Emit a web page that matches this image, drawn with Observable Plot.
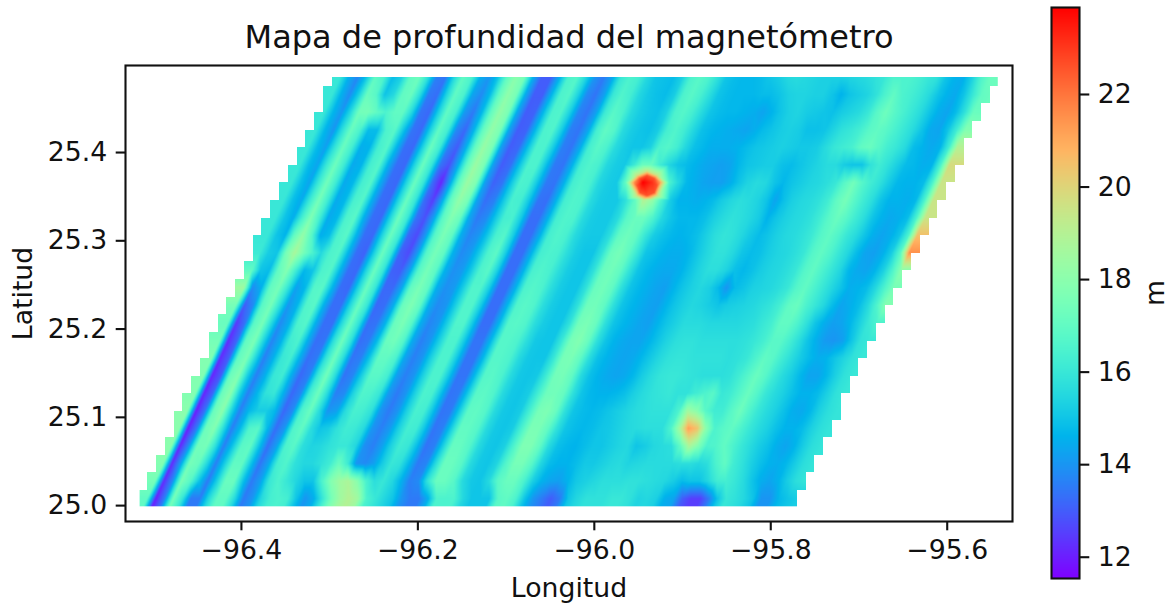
<!DOCTYPE html>
<html><head><meta charset="utf-8">
<script src="https://cdn.jsdelivr.net/npm/d3@7"></script>
<script src="https://cdn.jsdelivr.net/npm/@observablehq/plot@0.6"></script>
<style>html,body{margin:0;padding:0;background:#fff}#chart{display:flex;width:1172px;height:606px}svg{display:block}</style>
</head><body><div id="chart"></div>
<script>
// Depth in tenths of a metre, one row per 0.02 degrees of latitude, read along each row from its western edge.
const row24=[160,145,137,150,170,165,148,153,170,173,158,136,134,155,170,165,145,140,150,170,180,175,145,130,130,145,165,167,155,140,135,143,160,165,163,155,150,149,148,153,165,168,165,158,150,148,147,147,148,150,152,155,156,155,154,153,153,153,154,155,156,158,160,165,165,165,163,160,158,150,146,145,153,165,172,173];
const row23=[160,146,138,152,172,168,150,155,170,172,157,135,133,153,170,165,143,138,148,170,181,175,145,130,130,146,165,167,154,138,134,142,160,166,163,155,151,149,148,152,165,168,164,157,150,148,147,147,147,148,148,150,153,154,154,153,153,150,146,150,152,154,158,165,170,165,163,160,156,150,146,144,150,160,170,172];
const row22=[160,147,140,155,174,175,170,165,170,170,155,134,132,152,170,164,141,135,147,170,182,176,144,130,131,147,165,166,153,137,134,142,161,168,165,156,152,150,149,153,165,167,163,156,150,148,147,147,146,145,143,146,150,153,154,152,151,150,149,152,154,156,160,168,173,168,164,160,156,150,145,143,148,158,172,172];
const row21=[160,147,140,157,172,165,148,148,165,168,150,134,132,152,170,163,138,132,146,170,182,176,143,130,131,147,165,166,152,136,134,143,163,170,167,156,152,150,149,152,163,166,162,155,149,147,146,145,144,143,145,148,150,152,153,152,149,149,150,154,158,160,163,168,170,168,164,160,156,150,144,143,150,162,178,178];
const row20=[160,148,142,158,172,163,145,146,163,167,148,133,132,152,172,162,136,130,145,170,183,176,142,130,132,148,165,165,151,136,134,144,163,168,165,156,152,150,150,153,165,167,163,155,149,147,145,145,145,146,148,150,151,152,153,152,151,151,152,156,160,162,164,170,172,168,163,160,156,148,146,144,146,162,190,190];
const row19=[160,148,143,160,173,162,144,146,163,167,146,133,132,153,172,160,134,128,144,170,184,176,142,130,133,149,165,165,150,135,134,145,163,166,164,155,152,151,160,172,172,162,155,150,148,146,144,143,142,143,147,150,151,152,152,149,148,150,152,154,156,156,152,150,150,158,162,158,153,148,147,145,146,165,198,198];
const row18=[160,149,143,160,174,162,144,147,163,167,146,133,132,153,172,160,133,121,142,170,184,177,142,131,134,150,165,164,150,135,134,145,163,166,164,155,152,151,170,215,239,232,210,165,155,147,145,143,142,142,145,150,154,156,155,150,147,150,152,154,155,157,160,168,174,167,162,158,152,147,146,146,148,165,195,195];
const row17=[160,149,144,161,175,162,144,147,164,167,146,133,132,153,172,160,133,125,142,170,182,175,143,133,136,150,164,163,150,134,133,145,163,166,165,156,152,151,151,158,170,190,182,165,152,146,146,145,146,148,152,155,157,156,154,150,143,149,153,155,156,158,162,170,175,168,162,157,150,146,146,145,147,165,195,195];
const row16=[160,150,145,163,177,163,144,147,165,168,146,133,132,153,173,161,134,128,142,168,178,172,144,135,138,150,163,164,151,133,133,145,163,166,165,156,152,151,151,156,168,172,172,165,155,150,147,147,147,149,153,156,158,157,155,152,146,150,153,155,156,158,162,168,172,168,162,157,150,146,144,145,148,165,195,195];
const row15=[160,150,146,170,182,168,145,148,165,168,148,133,132,153,172,161,132,127,141,167,176,170,145,137,140,150,164,167,152,133,133,145,163,166,164,156,152,151,151,157,170,173,170,160,152,149,147,146,147,149,153,157,159,158,155,151,148,150,153,155,156,158,161,167,170,166,160,156,150,145,143,145,150,165,205,205];
const row14=[161,152,150,175,187,175,165,155,165,167,148,133,131,152,172,160,131,127,141,167,175,170,146,138,141,151,165,169,153,133,133,146,163,165,164,157,152,150,150,158,172,175,170,160,150,148,146,145,145,147,151,155,158,158,155,150,148,149,152,154,155,157,160,167,170,166,160,155,148,143,142,145,152,168,215,215];
const row13=[170,150,148,170,178,163,147,150,165,167,148,133,132,153,172,160,131,130,142,167,175,169,146,139,141,151,165,168,153,133,133,146,164,166,164,157,152,150,150,158,172,174,170,159,150,147,145,144,144,146,150,154,157,157,154,149,147,149,152,154,155,157,160,167,170,165,160,155,147,144,143,146,153,165,180,180];
const row12=[185,138,145,170,175,160,142,147,167,168,148,133,132,153,172,160,132,132,143,170,176,170,145,139,141,152,166,166,152,133,133,146,165,167,165,157,152,150,150,158,172,174,170,158,150,147,145,143,142,146,150,153,155,153,148,140,148,150,153,154,155,157,160,167,170,165,160,155,150,145,146,148,155,165,175,175];
const row11=[175,130,138,168,175,158,140,146,166,168,146,133,133,154,172,160,132,133,145,172,177,170,145,138,140,152,166,166,151,133,133,147,166,168,166,157,152,150,150,158,173,174,170,158,150,147,145,143,142,146,150,153,155,154,152,150,152,153,154,155,157,159,163,170,172,165,160,155,148,143,145,148,155,165,178,178];
const row10=[172,124,134,168,175,156,138,145,165,167,146,133,133,155,172,158,133,134,146,172,176,168,145,137,140,152,166,166,150,133,133,147,167,168,166,157,152,150,150,158,174,176,172,158,150,147,145,143,142,146,150,153,156,156,156,155,155,155,155,156,157,160,163,170,170,165,158,150,145,142,143,147,153,160,165,165];
const row09=[175,122,132,170,176,155,137,145,162,165,146,133,134,157,173,158,133,135,148,172,174,167,144,136,140,152,165,165,150,134,134,148,167,167,165,157,151,150,150,160,175,178,172,158,150,146,144,143,143,146,150,154,157,158,158,157,157,157,157,157,158,160,163,168,168,163,157,150,145,141,140,142,150,158,160,160];
const row08=[178,122,131,170,176,155,136,145,160,163,146,133,135,158,173,157,134,136,150,170,170,165,143,136,140,153,165,165,150,134,134,148,167,167,165,156,151,150,150,160,175,176,170,157,149,146,144,143,144,147,151,155,158,159,159,158,158,158,158,157,158,160,165,170,168,162,157,152,148,145,146,150,154,158,160,160];
const row07=[178,121,130,172,178,153,136,145,160,162,145,132,136,160,174,157,134,137,152,168,168,163,142,136,140,153,165,165,150,134,134,149,167,168,165,156,151,150,151,161,174,175,170,156,149,146,144,143,144,147,152,156,159,160,160,159,158,157,157,157,158,162,167,172,168,161,156,152,147,143,143,147,153,158,160,160];
const row06=[178,121,132,172,180,153,136,146,158,160,146,132,137,162,173,157,136,138,154,166,165,160,141,135,140,153,165,164,149,134,135,150,168,169,166,156,151,150,152,162,173,174,171,158,150,147,146,146,147,149,153,156,158,159,160,158,158,162,165,168,160,162,167,172,167,160,156,153,149,146,146,148,153,158,160,160];
const row05=[180,120,134,172,180,155,136,147,152,152,147,132,138,165,172,157,140,142,156,164,163,158,140,135,140,153,164,163,149,134,135,151,169,170,167,156,151,150,152,163,175,177,172,158,150,148,147,148,150,152,154,156,157,158,158,158,165,185,180,168,162,162,168,173,166,160,156,153,149,145,144,147,153,157,159,159];
const row04=[180,120,136,173,178,157,136,148,166,168,148,133,140,166,170,157,150,152,158,162,161,156,140,136,141,153,163,162,149,134,136,152,170,170,167,156,151,150,152,164,176,176,170,158,150,148,147,148,150,151,153,155,156,157,157,157,165,186,212,205,180,165,168,170,165,160,156,153,149,146,146,148,153,157,159,159];
const row03=[180,121,139,174,175,158,136,150,168,170,150,133,142,165,168,157,154,155,158,160,160,155,139,136,142,153,162,160,148,134,136,153,171,171,167,156,151,150,153,165,177,177,170,156,149,147,146,148,150,150,152,154,155,150,152,155,156,157,170,188,178,165,166,170,165,160,156,152,149,145,143,146,152,157,159,159];
const row02=[178,122,142,175,172,155,136,152,170,170,150,134,143,163,166,158,155,155,158,162,172,162,140,138,142,152,160,158,147,135,137,155,172,172,168,156,151,150,154,166,175,175,168,155,148,146,146,148,151,151,153,155,156,154,155,156,156,156,156,157,157,155,157,165,170,162,158,153,149,146,145,147,152,157,159,159];
const row01=[175,122,138,176,168,150,135,152,172,172,150,135,142,160,165,160,155,150,150,165,178,185,188,180,165,157,160,155,146,136,138,158,172,172,168,156,151,150,155,168,172,172,165,153,146,143,142,146,151,153,155,157,157,157,158,158,157,156,155,152,148,150,150,155,162,163,160,156,150,145,143,146,152,157,159,159];
const row00=[170,120,136,175,160,135,135,155,170,170,155,135,140,155,163,165,163,150,140,145,160,175,185,190,185,165,160,155,150,140,135,135,145,165,165,165,155,150,150,150,168,170,165,150,140,135,130,135,150,155,158,158,158,160,160,158,154,155,153,145,143,130,125,125,135,150,160,158,155,150,140,140,147,150,152,152];
const rowsSouthToNorth=[row00,row01,row02,row03,row04,row05,row06,row07,row08,row09,row10,row11,row12,row13,row14,row15,row16,row17,row18,row19,row20,row21,row22,row23,row24];

// Extra readings around the red peak.
const spotLon=[-95.929,-95.9323,-95.9403,-95.9483,-95.9516,-95.9483,-95.9403,-95.9323,-95.9287,-95.9519,-95.9519,-95.9287,-95.9403];
const spotLat=[25.3626,25.3706,25.3739,25.3706,25.3626,25.3546,25.3513,25.3546,25.3742,25.3742,25.351,25.351,25.379];
const spotDepth=[22.6,22.6,22.6,22.6,22.6,22.6,22.6,22.6,19.5,19.5,19.5,19.5,19.5];

// Survey outline: how many grid cells (south to north) each western / eastern edge column lasts.
const westRuns=[2,2,2,2,3,2,2,2,3,2,2,2,2,3,2,2,2,2,2,2,2,3,1];
const eastRuns=[2,2,2,2,2,3,2,2,2,2,2,2,2,2,2,2,2,2,2,3,2,2,2,1];
const eastFirst=75;

const lonTicks=[-96.4,-96.2,-96.0,-95.8,-95.6];
const latTicks=[25.0,25.1,25.2,25.3,25.4];
const depthTicks=[12,14,16,18,20,22];

const cols=98, cells=50;
const lon0=-96.5166, lat0=24.998, cell=0.00995, drift=22/48;
const expand=(runs,start)=>runs.flatMap((n,i)=>Array(n).fill(start+i));
const westCol=expand(westRuns,0), eastCol=expand(eastRuns,eastFirst);

const soundings=[];
const addRow=(row,c)=>{
  const off=drift*c;
  for(let k=-4;k<row.length+4;k++){ // edge readings carried just past the outline, hidden by the mask
    const v=row[Math.max(0,Math.min(row.length-1,k))];
    soundings.push({lon:lon0+cell*(off+k+0.5),lat:lat0+cell*c,depth:v/10});
  }
};
addRow(row00,-1);
rowsSouthToNorth.forEach((row,i)=>addRow(row,2*i+1));
addRow(row24,51);
spotLon.forEach((lon,i)=>soundings.push({lon,lat:spotLat[i],depth:spotDepth[i]}));

const outside=[];
for(let r=cells-1;r>=0;r--)for(let c=0;c<cols;c++){
  outside.push(r>=westCol.length||c<westCol[r]||c>=eastCol[r]?1:0);
}

const rainbow=t=>{ // matplotlib "rainbow"
  const r=Math.min(1,Math.abs(2*t-0.5)),g=Math.sin(Math.PI*t),b=Math.cos(Math.PI*t/2);
  return `rgb(${Math.round(255*r)},${Math.round(255*g)},${Math.round(255*b)})`;
};
const colorScale={type:"linear",domain:[11.54,23.88],interpolate:()=>rainbow};
const font={fontFamily:"DejaVu Sans",background:"transparent",color:"#000",overflow:"visible"};
const ink="#111";
const inset=0.0012;
const extent={x1:lon0,x2:lon0+cols*cell,y1:lat0+cells*cell,y2:lat0};

const main=Plot.plot({
  width:1040,height:606,marginLeft:125,marginRight:28,marginTop:65,marginBottom:85,
  style:font,
  x:{domain:[-96.5314,-95.526]},y:{domain:[24.982,25.4986]},color:colorScale,
  marks:[
    Plot.raster(soundings,{x:"lon",y:"lat",fill:"depth",interpolate:"barycentric",pixelSize:1,
      x1:lon0+inset,x2:lon0+cols*cell-inset,y1:lat0+cells*cell-inset,y2:lat0+inset}),
    Plot.raster(outside,{width:cols,height:cells,...extent,fill:"white",fillOpacity:d=>d,imageRendering:"pixelated"}),
    Plot.frame({stroke:ink,strokeWidth:2.1}),
    Plot.axisX({ticks:lonTicks,tickFormat:".1f",tickSize:9.3,tickPadding:9,strokeWidth:2.1,stroke:ink,fontSize:26.7,fill:ink,label:"Longitud",labelAnchor:"center",labelArrow:"none",labelOffset:75}),
    Plot.axisY({ticks:latTicks,tickFormat:".1f",tickSize:9.3,tickPadding:9,strokeWidth:2.1,stroke:ink,fontSize:26.7,fill:ink,label:"Latitud",labelAnchor:"center",labelArrow:"none",labelOffset:112}),
    Plot.text(["Mapa de profundidad del magnetómetro"],{frameAnchor:"top",dy:-28,text:d=>d,fontSize:32,fill:ink,lineAnchor:"middle"})
  ]
});
const bar=Plot.plot({
  width:132,height:606,marginLeft:11,marginRight:93,marginTop:7,marginBottom:28,
  style:font,
  x:{domain:[0,1],axis:null},y:{domain:[11.54,23.88]},color:colorScale,
  marks:[
    Plot.raster({fill:(x,y)=>y,x1:0,x2:1,y1:11.54,y2:23.88,pixelSize:1}),
    Plot.frame({stroke:ink,strokeWidth:2.1}),
    Plot.axisY({anchor:"right",ticks:depthTicks,tickSize:9.3,tickPadding:9,strokeWidth:2.1,stroke:ink,fontSize:26.7,fill:ink,label:"m",labelAnchor:"center",labelArrow:"none",labelOffset:84})
  ]
});
document.getElementById("chart").append(main,bar);
</script></body></html>
